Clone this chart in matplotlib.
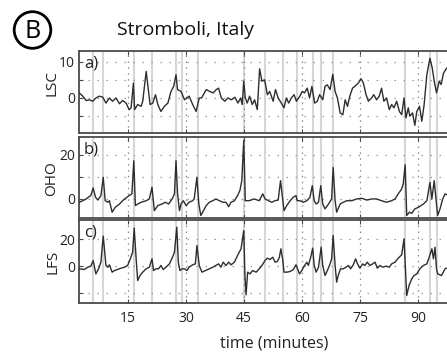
import matplotlib
matplotlib.use("Agg")
import matplotlib.pyplot as plt
from matplotlib.patches import Ellipse

plt.rcParams['font.family'] = ['Open Sans', 'DejaVu Sans']

# ---- data (time in minutes) ----
lsc_t = [2.4, 3.3, 4.2, 5.0, 5.9, 6.7, 7.6, 8.5, 9.3, 10.2, 11.0, 11.9, 12.8, 13.6, 14.5,
         15.3, 15.8, 16.4, 16.7, 17.5, 18.4, 18.8, 19.7, 20.1, 20.7, 21.4, 22.1, 22.7, 23.5,
         24.4, 25.3, 26.1, 26.8, 27.4, 27.8, 28.7, 29.6, 30.8, 31.7, 32.6, 33.4, 34.0, 35.2,
         36.1, 37.0, 37.8, 38.4, 39.1, 40.0, 40.8, 41.7, 42.6, 43.4, 44.1, 44.5, 44.9, 45.3,
         45.8, 46.4, 47.1, 47.7, 48.4, 49.0, 49.6, 50.3, 51.0, 51.6, 52.5, 53.1, 53.8, 54.6,
         55.3, 55.9, 56.5, 57.2, 57.9, 58.5, 59.4, 60.0, 60.6, 61.3, 61.9, 62.5, 63.2, 63.9,
         64.5, 65.3, 65.9, 66.5, 67.2, 67.9, 68.5, 69.1, 69.8, 70.5, 71.1, 71.7, 72.3, 73.0,
         73.6, 74.5, 75.2, 75.8, 76.5, 77.1, 77.9, 78.5, 79.2, 79.9, 80.5, 81.1, 81.8, 82.5,
         83.1, 83.7, 84.4, 85.1, 85.7, 86.3, 86.8, 87.4, 87.8, 88.5, 89.1, 89.6, 90.3, 90.9,
         91.5, 92.2, 93.0, 93.6, 94.1, 94.7, 95.4, 95.9, 96.5, 97.3, 97.8]
lsc_v = [1.4, 0.5, -0.7, -0.5, -0.9, 0.0, 0.5, 0.2, -1.4, 0.0, -0.9, 0.0, -1.6, -0.7, -1.4,
         -3.2, -2.7, 4.1, -3.2, -1.8, -2.3, -0.9, 7.3, 3.7, -1.8, -1.4, 0.9, -1.8, -3.7,
         -2.3, -1.4, 1.8, 3.2, 6.4, 2.3, 1.8, -0.5, 0.5, -1.8, -3.7, 0.0, 0.0, 2.3,
         1.8, 1.4, 2.3, 2.7, 0.0, -0.9, 0.0, -0.5, 0.2, -1.4, 0.0, -1.8, 4.6, 0.0,
         -1.4, 0.5, -1.8, -0.5, -3.2, 8.0, 4.6, 5.0, 0.9, 1.8, -0.9, 2.3, 0.0, -1.4,
         -2.7, 0.0, -1.4, 0.0, 0.9, -0.9, 0.5, 1.8, 1.4, 2.7, 0.0, 3.2, -1.4, -0.9,
         0.9, -0.5, 3.2, 3.6, 2.3, 6.5, 1.8, 0.0, -4.1, -4.6, -0.5, -2.3, 0.5, 2.7,
         3.2, 4.1, 5.3, 4.1, 0.9, -0.9, 0.0, 0.9, -0.5, 0.5, 2.7, -0.9, 0.0, -3.2,
         -1.8, -2.7, -0.9, -3.7, -4.6, 0.0, -5.5, -2.7, -5.0, -4.1, -7.5, -3.7, -2.3, -6.4,
         -1.8, 6.4, 10.9, 8.2, 4.6, 1.4, 4.6, 3.7, 6.8, 8.2, 7.5]

oho_t = [2.4, 3.3, 4.2, 5.0, 5.4, 6.0, 6.6, 7.2, 8.0, 8.6, 9.1, 9.8, 10.2, 10.9, 11.7,
         12.8, 13.6, 14.5, 15.3, 16.0, 16.5, 16.9, 17.5, 18.4, 19.7, 20.5, 21.2, 21.8, 22.7,
         23.8, 24.6, 25.5, 26.4, 27.0, 27.4, 27.8, 28.3, 28.7, 29.3, 30.0, 30.8, 31.7, 32.1,
         32.8, 33.3, 33.8, 34.3, 35.2, 36.0, 36.9, 37.7, 38.6, 39.5, 40.3, 41.0, 41.6, 42.5,
         43.3, 43.9, 44.4, 44.9, 45.3, 46.3, 47.6, 48.9, 49.8, 50.4, 51.3, 52.1, 53.0, 53.8,
         54.4, 55.0, 55.3, 56.0, 56.9, 57.7, 58.4, 58.7, 59.4, 60.3, 61.2, 62.0, 62.6, 63.1,
         63.6, 64.2, 64.8, 65.3, 65.9, 66.8, 67.6, 68.0, 68.5, 68.9, 69.8, 70.6, 71.5, 72.8,
         74.1, 75.4, 76.7, 78.0, 79.2, 80.5, 81.8, 83.1, 84.0, 84.8, 85.7, 86.1, 86.6, 87.0,
         87.7, 88.3, 89.1, 90.0, 91.3, 92.2, 93.0, 93.5, 94.1, 94.6, 95.0, 95.6, 96.3, 96.9,
         97.8]
oho_v = [-1.5, -0.8, 0.0, 1.1, 1.5, 5.0, 0.8, -0.5, 1.5, 9.8, -0.8, -1.5, -0.8, -6.0, -3.8,
         -2.3, -0.8, 0.5, 1.5, 2.3, 17.3, -3.0, -2.3, -1.5, -0.8, 0.0, 5.3, -5.3, -3.0,
         -2.3, -1.5, -2.3, 0.0, 2.3, 17.3, 2.3, -5.3, -2.3, -0.8, -3.0, -1.5, -0.8, 0.0,
         9.8, -2.3, -7.5, -6.0, -3.0, -1.5, -0.8, 0.0, -0.8, -1.5, -1.5, -3.5, -1.5, -0.8,
         1.5, 3.8, 8.3, 26.4, -0.8, -0.8, 0.0, -0.8, 2.3, 0.0, -0.8, -1.5, -0.8, -0.5,
         8.3, -0.8, -5.3, -3.0, -0.8, 0.8, 1.5, -0.8, -0.8, -1.5, -0.8, 0.8, 6.0, -0.8,
         -2.3, -1.5, 6.0, -2.3, -4.5, -2.3, 0.0, 14.3, -0.8, -6.0, -2.3, -1.5, -0.8, -0.8,
         0.0, 0.3, -0.5, 0.0, 0.0, -0.8, -1.5, -0.8, 0.0, 2.3, 4.5, 6.8, 15.5, -7.5,
         -6.0, -6.5, -4.5, -3.8, -2.3, -0.8, 7.5, 0.0, 8.3, -0.8, -7.5, -4.5, 0.0, 2.3,
         1.5]

lfs_t = [2.4, 3.7, 4.6, 5.4, 6.0, 6.7, 7.4, 8.0, 8.6, 9.3, 9.8, 10.2, 10.9, 11.5, 12.3,
         13.2, 14.1, 14.9, 15.6, 16.2, 16.6, 17.1, 17.5, 18.1, 18.8, 19.7, 20.5, 21.2, 21.6,
         22.2, 22.9, 23.5, 24.1, 24.8, 25.7, 26.5, 27.0, 27.6, 28.0, 28.4, 29.0, 29.6, 30.2,
         30.8, 31.7, 32.4, 32.8, 33.4, 34.1, 35.0, 36.0, 36.9, 37.7, 38.4, 39.0, 39.6, 40.3,
         41.0, 41.6, 42.5, 43.3, 44.2, 44.9, 45.2, 45.5, 45.9, 46.5, 47.2, 48.1, 48.9, 49.6,
         50.4, 51.0, 51.7, 52.4, 53.0, 53.6, 54.1, 54.5, 55.0, 55.3, 56.0, 56.9, 57.7, 58.4,
         58.8, 59.3, 59.9, 60.5, 61.2, 61.6, 62.2, 62.7, 63.1, 63.6, 64.2, 64.9, 65.3, 65.9,
         66.5, 67.2, 67.6, 68.0, 68.5, 68.9, 69.3, 69.9, 70.6, 71.3, 71.9, 72.5, 73.2, 73.8,
         74.3, 74.9, 75.6, 76.2, 76.8, 77.5, 78.2, 78.8, 79.4, 80.1, 80.8, 81.7, 82.5, 83.1,
         84.0, 84.8, 85.7, 86.3, 86.6, 87.0, 87.6, 88.3, 88.9, 89.6, 90.4, 91.3, 92.2, 92.8,
         93.5, 93.9, 94.3, 94.7, 95.0, 96.0, 96.9, 97.8]
lfs_v = [-2.1, -2.6, -0.9, -0.1, 4.1, -5.9, -2.1, 2.9, 22.4, 0.4, -0.9, 0.9, -4.6, -3.4, -2.6,
         -1.6, -0.9, 0.4, 5.4, 10.4, 28.4, 5.4, -10.9, -7.1, -4.6, -2.1, -0.9, 5.4, -3.4,
         -2.1, -2.1, 0.4, -2.6, -0.9, 1.6, 6.6, 10.4, 29.1, 2.9, -3.4, -2.1, -2.1, -3.4,
         -0.9, 0.9, 1.6, 15.4, 0.4, -4.6, -3.4, -2.1, -0.9, 0.4, 1.6, -0.9, 2.9, 0.4,
         2.9, 0.9, 2.9, 7.9, 12.9, 26.6, -7.1, -21.6, -4.6, -5.9, -3.4, -4.6, -2.1, 0.4,
         4.1, 5.9, 4.9, 6.6, 2.9, 3.4, 6.6, 12.9, 4.1, -4.6, -4.6, -4.1, -2.6, 0.9,
         -2.1, -5.9, -3.4, -0.1, 2.9, 0.4, 6.6, 13.4, 0.4, -4.6, -0.9, 14.1, 0.4, -7.1,
         -3.4, 1.6, 5.4, 22.9, 0.4, -12.1, -7.1, -2.1, -2.1, -0.9, 0.4, -2.1, 0.9, 5.4,
         1.6, -1.6, 1.6, 0.4, 2.9, 0.4, 1.6, 2.9, -1.6, 0.4, -0.9, -0.1, -0.9, 1.6,
         2.9, 5.9, 8.4, 20.4, 2.9, -22.1, -14.6, -9.6, -7.1, -5.9, -2.1, 0.4, 1.6, 6.6,
         12.9, 5.4, 14.1, -2.1, -5.9, -7.1, -2.1, -0.9]

# times of the marked explosions (grey vertical lines)
event_t = [5.9, 8.6, 16.55, 21.1, 27.4, 28.9, 33.0, 45.0, 50.4, 55.0, 58.6,
           62.9, 64.8, 67.9, 86.6, 93.0, 94.75]

panel_names = ['LSC', 'OHO', 'LFS']
panel_tags = ['a)', 'b)', 'c)']
x_ticks = [15, 30, 45, 60, 75, 90]
y_ticks = [[-5, 0, 5, 10], [0, 10, 20], [-20, 0, 20]]
y_ticklabels = [['', '0', '', '10'], ['0', '', '20'], ['', '0', '20']]
y_limits = [(-9.7, 12.9), (-8.5, 28.2), (-27.5, 34.5)]
series = [(lsc_t, lsc_v), (oho_t, oho_v), (lfs_t, lfs_v)]

W, H = 447, 356
fig = plt.figure(figsize=(W / 100, H / 100), dpi=100)

# axes boxes in pixels: (top, bottom)
rows = [(51.0, 133.3), (136.7, 217.7), (220.0, 302.7)]
x_left_px = 79.0
t_left, t_right = 2.34, 103.0
px_per_min = 3.871
width_px = (t_right - t_left) * px_per_min

label_pos = [(52, 83), (52, 179), (53, 262)]
tag_top = [55, 141, 225]

spine_col = '#4a4a4a'
for i, ((top, bot), (tt, vv)) in enumerate(zip(rows, series)):
    ax = fig.add_axes([x_left_px / W, 1 - bot / H, width_px / W, (bot - top) / H])
    ax.set_xlim(t_left, t_right)
    ax.set_ylim(*y_limits[i])
    for et in event_t:
        ax.axvline(et, color='#d6d6d6', lw=1.5, zorder=1)
    for xt in x_ticks:
        ax.axvline(xt, color='#8a8a8a', lw=0.9, ls=(0, (1.2, 3.5)), zorder=1.5)
    for yt in y_ticks[i]:
        ax.axhline(yt, color='#9a9a9a', lw=0.9, ls=(0, (1.2, 6)), zorder=1.5)
    ax.plot(tt, vv, color='#2e2e2e', lw=1.0, zorder=3)
    ax.set_xticks(x_ticks)
    ax.set_yticks(y_ticks[i])
    ax.set_yticklabels(y_ticklabels[i])
    if i < 2:
        ax.set_xticklabels([])
    ax.tick_params(direction='in', length=3, width=0.8, color=spine_col,
                   top=True, right=True, labelsize=10, labelcolor='#222222', pad=3)
    ax.tick_params(axis='x', pad=6)
    for s in ax.spines.values():
        s.set_color(spine_col)
        s.set_linewidth(1.3)
    ax.text(5 / width_px, 1 - (tag_top[i] - top) / (bot - top), panel_tags[i],
            transform=ax.transAxes, ha='left', va='top', fontsize=12, color='#222222')
    lx, ly = label_pos[i]
    fig.text(lx / W, 1 - ly / H, panel_names[i], rotation=90, ha='center', va='center',
             fontsize=11, color='#222222')
    if i == 2:
        ax.set_xlabel('time (minutes)', fontsize=11.5, color='#222222', labelpad=7)

# circled panel letter and site title
cx, cy, r = 32.5, 30.0, 18.3
fig.add_artist(Ellipse((cx / W, 1 - cy / H), 2 * r / W, 2 * r / H, fill=False,
                       lw=2.0, ec='black', transform=fig.transFigure))
fig.text(cx / W, 1 - 38.5 / H, 'B', ha='center', va='baseline', fontsize=18, color='black')
fig.text(117 / W, 1 - 35 / H, 'Stromboli, Italy', ha='left', va='baseline', fontsize=14,
         color='#111111')

fig.savefig('out.png', dpi=100)
